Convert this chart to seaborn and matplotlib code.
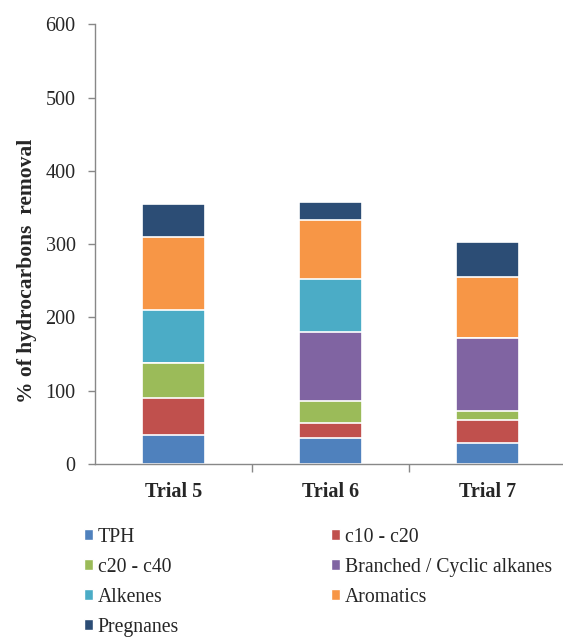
import numpy as np
import pandas as pd
import matplotlib
matplotlib.use('Agg')
import matplotlib.pyplot as plt
from matplotlib.patches import Patch
import seaborn as sns

trials = ['Trial 5', 'Trial 6', 'Trial 7']
components = ['TPH', 'c10 - c20', 'c20 - c40', 'Branched / Cyclic alkanes',
              'Alkenes', 'Aromatics', 'Pregnanes']
tph = [40, 35, 28]
c10_c20 = [50, 21, 32]
c20_c40 = [48, 30, 12]
branched = [0, 94, 100]
alkenes = [72, 72, 0]
aromatics = [100, 81, 83]
pregnanes = [45, 25, 48]
colors = ['#4F81BD', '#C0504D', '#9BBB59', '#8064A2', '#4BACC6', '#F79646', '#2C4D75']

sns.set_style('white')
plt.rcParams['font.family'] = ['Liberation Serif', 'DejaVu Serif']

series = [tph, c10_c20, c20_c40, branched, alkenes, aromatics, pregnanes]
cum = np.cumsum(np.array(series), axis=0)

fig = plt.figure(figsize=(5.63, 6.37), dpi=100)
ax = fig.add_axes([0.169, 0.2716, 0.831, 0.6904])

# stacked bars drawn as overlaid cumulative totals, top layer first
for i in range(len(components) - 1, -1, -1):
    df = pd.DataFrame({'trial': trials, 'value': cum[i]})
    sns.barplot(data=df, x='trial', y='value', color=colors[i], width=0.4,
                edgecolor='white', linewidth=1.2, saturation=1, ax=ax, zorder=2)

ax.set_ylim(0, 600)
ax.set_xlim(-0.5, 2.48)
ax.set_yticks(range(0, 601, 100))
ax.set_xlabel('')
ax.set_ylabel('% of hydrocarbons  removal', fontsize=15.5, fontweight='bold')
ax.yaxis.set_label_coords(-0.124, 0.44)
ax.tick_params(axis='y', labelsize=14.5, length=5, color='#888888', width=1, left=True, pad=9)
ax.tick_params(axis='x', which='major', labelsize=14.5, length=0, pad=13)
for lbl in ax.get_xticklabels():
    lbl.set_fontweight('bold')
ax.set_xticks([0.5, 1.5], minor=True)
ax.tick_params(axis='x', which='minor', length=6, color='#888888', width=1, bottom=True)
for s in ['top', 'right']:
    ax.spines[s].set_visible(False)
for s in ['left', 'bottom']:
    ax.spines[s].set_color('#888888')
    ax.spines[s].set_linewidth(1)

order = [0, 2, 4, 6, 1, 3, 5]
handles = [Patch(facecolor=colors[i], edgecolor='white', label=components[i]) for i in order]
fig.legend(handles=handles, loc='upper left', bbox_to_anchor=(0.135, 0.184), ncol=2,
           frameon=False, fontsize=14.2, handlelength=0.45, handleheight=0.45,
           handletextpad=0.25, columnspacing=7.7, labelspacing=0.56, borderaxespad=0)

fig.savefig('out.png', dpi=100)
